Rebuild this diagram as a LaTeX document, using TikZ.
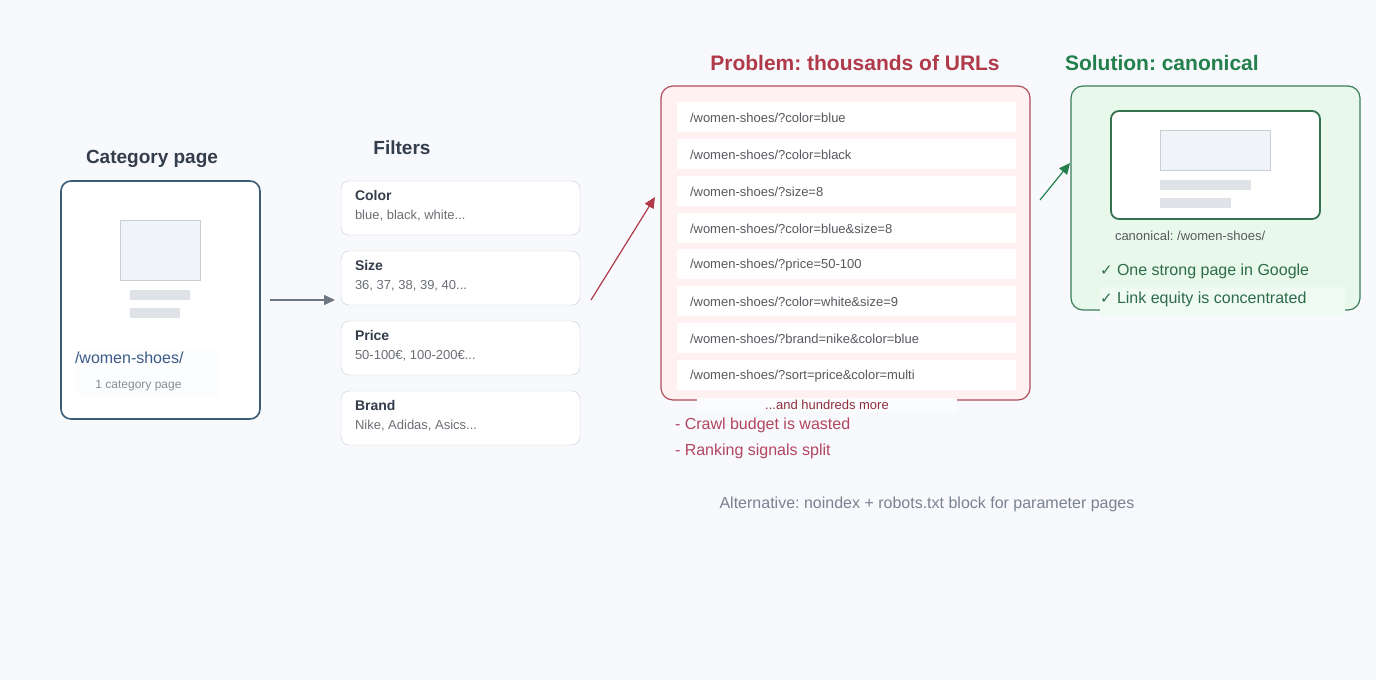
\documentclass[tikz,border=0pt]{standalone}
\usepackage{fontspec}
\setmainfont{Liberation Sans}
\newfontfamily\symfont{DejaVu Sans}
\usetikzlibrary{arrows.meta}
\frenchspacing

\definecolor{bgcol}{HTML}{F7F9FC}
\definecolor{titlecol}{HTML}{333D4B}
\definecolor{catcol}{HTML}{3E5B75}
\definecolor{phfill}{HTML}{F0F3F7}
\definecolor{phline}{HTML}{C9CED4}
\definecolor{barcol}{HTML}{DFE2E6}
\definecolor{urlcol}{HTML}{3B5A85}
\definecolor{boxline}{HTML}{C8CCD2}
\definecolor{greytext}{HTML}{6B6F75}
\definecolor{arrowgrey}{HTML}{6E7680}
\definecolor{probcol}{HTML}{B03A4A}
\definecolor{probline}{HTML}{B24E5C}
\definecolor{probfill}{HTML}{FFF1F2}
\definecolor{crawlcol}{HTML}{B34560}
\definecolor{solcol}{HTML}{23804C}
\definecolor{solline}{HTML}{3B7D58}
\definecolor{solfill}{HTML}{E8F9EC}
\definecolor{checkcol}{HTML}{2E6B48}
\definecolor{altcol}{HTML}{7A8290}

\begin{document}
\begin{tikzpicture}[x=1pt,y=-1pt,
  every node/.style={inner sep=0pt, outer sep=0pt},
  card/.style={draw, rounded corners=10pt, fill=white, anchor=north west},
  holder/.style={draw=phline, fill=phfill, anchor=north west},
  bar/.style={fill=barcol, anchor=north west},
  heading/.style={font=\bfseries\fontsize{19}{22}\selectfont, text=titlecol},
  filterbox/.style={draw=boxline, rounded corners=8pt, fill=white, anchor=north west,
    minimum width=239pt, minimum height=54pt},
  urlrow/.style={fill=white, minimum width=339pt, minimum height=30pt},
  link/.style={-{Triangle[length=11pt,width=10pt]}, line width=1.4pt}]
\useasboundingbox[fill=bgcol] (0,0) rectangle (1376,680);

% category page
\node[heading] (cattitle) at (152,159) {Category page};
\node[card, draw=catcol, line width=1.6pt, minimum width=199pt, minimum height=238pt] (cat) at (61,181) {};
\node[holder, minimum width=80pt, minimum height=60pt] (catimg) at (120,220) {};
\node[bar, minimum width=60pt, minimum height=10pt] (catbar1) at (130,290) {};
\node[bar, minimum width=50pt, minimum height=10pt] (catbar2) at (130,308) {};
\node[fill=white!60!bgcol, anchor=north west, minimum width=145pt, minimum height=47pt] (catlabel) at (75,350) {};
\node[anchor=west, text=urlcol, font=\fontsize{16}{18}\selectfont] (caturl) at (75,358) {/women-shoes/};
\node[text=greytext!80, font=\fontsize{12}{14}\selectfont] (catnote) at (138.5,386) {1 category page};

% filters
\node[heading] (filtitle) at (402,148) {Filters};
\foreach \i/\y/\name/\vals in {1/181/Color/{blue, black, white...},
    2/251/Size/{36, 37, 38, 39, 40...},
    3/321/Price/{50-100€, 100-200€...},
    4/391/Brand/{Nike, Adidas, Asics...}} {
  \node[filterbox] (f\i) at (341,\y) {};
  \node[anchor=west, text=titlecol, font=\bfseries\fontsize{14}{16}\selectfont] (f\i name) at (355,\y+14) {\name};
  \node[anchor=west, text=greytext, font=\fontsize{13}{15}\selectfont] (f\i vals) at (355,\y+35) {\vals};
}

\draw[link, draw=arrowgrey, arrowgrey, shorten <=10pt, shorten >=6pt] (cat.east) -- (cat.east -| f2.west);

% problem
\node[text=probcol, font=\bfseries\fontsize{21}{24}\selectfont] (probtitle) at (855,63) {Problem: thousands of URLs};
\node[card, draw=probline, line width=1.2pt, fill=probfill, rounded corners=12pt,
  minimum width=369pt, minimum height=314pt] (prob) at (661,86) {};
\foreach \url [count=\i from 0] in {/women-shoes/?color=blue, /women-shoes/?color=black,
    /women-shoes/?size=8, /women-shoes/?color=blue\&size=8, /women-shoes/?price=50-100,
    /women-shoes/?color=white\&size=9, /women-shoes/?brand=nike\&color=blue,
    /women-shoes/?sort=price\&color=multi} {
  \node[urlrow] (row\i) at (846.5,117+36.86*\i) {};
  \node[anchor=west, text=greytext!80!black, font=\fontsize{13}{15}\selectfont] (url\i) at (690,118+36.86*\i) {\url};
}
\node[fill=bgcol!50!white, minimum width=260pt, minimum height=14pt, text=probcol!80!black,
  font=\fontsize{13}{15}\selectfont] (more) at (827,405) {...and hundreds more};
\node[anchor=west, text=crawlcol, font=\fontsize{16}{18}\selectfont] (crawl) at (675,425) {- Crawl budget is wasted};
\node[anchor=west, text=crawlcol, font=\fontsize{16}{18}\selectfont] (rank) at (675,451) {- Ranking signals split};

\coordinate (redstart) at (591,300);
\coordinate (redend) at (655,197);
\draw[link, draw=probcol, probcol, line width=1.2pt] (redstart) -- (redend);

% solution
\node[anchor=west, text=solcol, font=\bfseries\fontsize{21}{24}\selectfont] (soltitle) at (1065,63) {Solution: canonical};
\node[card, draw=solline, line width=1.2pt, fill=solfill, rounded corners=12pt,
  minimum width=289pt, minimum height=224pt] (sol) at (1071,86) {};
\fill[solfill!70!white] (1100,287) rectangle (1345,316);
\node[card, draw=solline!90!black, line width=1.8pt, rounded corners=8pt,
  minimum width=209pt, minimum height=108pt] (canon) at (1111,111) {};
\node[holder, minimum width=110pt, minimum height=40pt] (canonimg) at (1160,130) {};
\node[bar, minimum width=91pt, minimum height=10pt] (canonbar1) at (1160,180) {};
\node[bar, minimum width=71pt, minimum height=10pt] (canonbar2) at (1160,198) {};
\node[anchor=west, text=greytext!80!black, font=\fontsize{13}{15}\selectfont] (canontext) at (1115,236) {canonical: /women-shoes/};
\node[anchor=west, text=checkcol, font=\fontsize{16}{18}\selectfont] (check1) at (1100,271) {{\symfont\fontsize{15}{17}\selectfont ✓} One strong page in Google};
\node[anchor=west, text=checkcol, font=\fontsize{16}{18}\selectfont] (check2) at (1100,299) {{\symfont\fontsize{15}{17}\selectfont ✓} Link equity is concentrated};

\coordinate (greenstart) at (1040,200);
\coordinate (greenend) at (1070,163);
\draw[link, draw=solcol, solcol, line width=1.2pt] (greenstart) -- (greenend);

% alternative
\node[text=altcol, font=\fontsize{16}{18}\selectfont] (alt) at (927,504) {Alternative: noindex + robots.txt block for parameter pages};
\end{tikzpicture}
\end{document}
